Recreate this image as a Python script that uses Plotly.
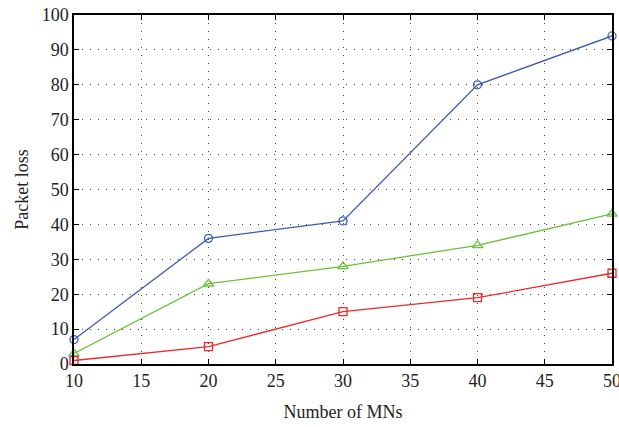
import plotly.graph_objects as go

x_mns = [10, 20, 30, 40, 50]
blue_loss = [7, 36, 41, 80, 94]
green_loss = [3, 23, 28, 34, 43]
red_loss = [1, 5, 15, 19, 26]

fig = go.Figure()
fig.add_trace(go.Scatter(x=x_mns, y=blue_loss, mode="lines+markers", cliponaxis=False,
                         line=dict(color="#3a5bb0", width=1.3),
                         marker=dict(symbol="circle-open", size=8, color="#3a5bb0", line=dict(width=1.3))))
fig.add_trace(go.Scatter(x=x_mns, y=green_loss, mode="lines+markers", cliponaxis=False,
                         line=dict(color="#6cc03c", width=1.3),
                         marker=dict(symbol="triangle-up-open", size=9, color="#6cc03c", line=dict(width=1.3))))
fig.add_trace(go.Scatter(x=x_mns, y=red_loss, mode="lines+markers", cliponaxis=False,
                         line=dict(color="#ee2a2a", width=1.3),
                         marker=dict(symbol="square-open", size=8, color="#ee2a2a", line=dict(width=1.3))))

font = dict(family="Liberation Serif", size=18, color="#222")
title_font = dict(family="Liberation Serif", size=18, color="#222")
axis_common = dict(showline=True, linecolor="black", linewidth=1.5, mirror="ticks",
                   ticks="inside", ticklen=5, tickcolor="black", tickwidth=1,
                   showgrid=True, gridcolor="#444444", griddash="1px,7px", gridwidth=1.2,
                   zeroline=False, automargin=False, ticklabeloverflow="allow", tickfont=font)

fig.update_layout(
    width=619, height=427,
    margin=dict(l=74, r=7, t=15, b=63),
    plot_bgcolor="white", paper_bgcolor="white",
    showlegend=False,
    xaxis=dict(range=[10, 50], tickvals=[10, 15, 20, 25, 30, 35, 40, 45, 50],
               title=dict(text="Number of MNs", font=title_font, standoff=15),
               **axis_common),
    yaxis=dict(range=[0, 100], tickvals=list(range(0, 101, 10)),
               title=dict(text="Packet loss", font=title_font, standoff=8),
               **axis_common),
)

fig.write_html("out.html", config={"displayModeBar": False},
               post_script="document.body.style.margin='0';document.body.style.overflow='hidden';")
